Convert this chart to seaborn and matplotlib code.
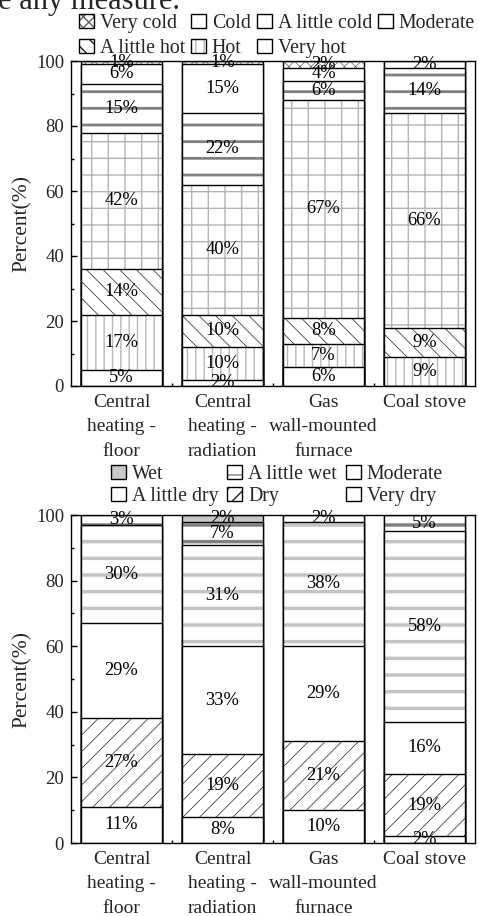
import matplotlib
matplotlib.use("Agg")
import numpy as np
import matplotlib.pyplot as plt
import seaborn as sns
from matplotlib.patches import Patch

sources = ["Central\nheating -\nfloor", "Central\nheating -\nradiation",
           "Gas\nwall-mounted\nfurnace", "Coal stove"]

# thermal sensation, bottom -> top of each stack
thermal_levels = ["Very hot", "Hot", "A little hot", "Moderate", "A little cold", "Cold", "Very cold"]
very_hot = [5, 2, 6, 0]
hot = [17, 10, 7, 9]
little_hot = [14, 10, 8, 9]
moderate_t = [42, 40, 67, 66]
little_cold = [15, 22, 6, 14]
cold = [6, 15, 4, 2]
very_cold = [1, 1, 2, 0]

# humidity sensation, bottom -> top of each stack
humid_levels = ["Very dry", "Dry", "A little dry", "Moderate", "A little wet", "Wet"]
very_dry = [11, 8, 10, 2]
dry = [27, 19, 21, 19]
little_dry = [29, 33, 29, 16]
moderate_h = [30, 31, 38, 58]
little_wet = [3, 7, 2, 5]
wet = [0, 2, 0, 0]

# (hatch, hatch colour, hatch width, face, show pattern in legend)
thermal_style = {
    "Very hot": ("", "black", 0.5, "white", True),
    "Hot": ("||", "#b8b8b8", 1.0, "white", True),
    "A little hot": ("\\\\", "#202020", 0.5, "white", True),
    "Moderate": ("+", "#b4b4b4", 1.0, "white", False),
    "A little cold": ("-", "#808080", 2.0, "white", False),
    "Cold": ("", "black", 0.5, "white", True),
    "Very cold": ("xxx", "#606060", 0.5, "white", True),
}
humid_style = {
    "Very dry": ("", "black", 0.5, "white", True),
    "Dry": ("//", "#202020", 0.5, "white", True),
    "A little dry": ("", "black", 0.5, "white", True),
    "Moderate": ("-", "#c4c4c4", 2.5, "white", False),
    "A little wet": ("-", "#808080", 2.5, "white", True),
    "Wet": ("", "#c4c4c4", 0.5, "#c8c8c8", True),
}

sns.set_theme(style="ticks")
plt.rcParams["font.family"] = ["Liberation Serif", "DejaVu Serif"]

fig = plt.figure(figsize=(4.79, 9.16), dpi=100)
ax1 = fig.add_axes([71 / 479, 1 - 386 / 916, 404 / 479, 325 / 916])
ax2 = fig.add_axes([71 / 479, 1 - 843 / 916, 404 / 479, 328 / 916])


def stacked(ax, columns, names, styles):
    cum = np.cumsum(np.array(columns, dtype=float), axis=0)
    # draw running totals from the top level down so each level covers the one above
    for i in range(len(names) - 1, -1, -1):
        hatch, hcol, hlw, face, _ = styles[names[i]]
        with plt.rc_context({"hatch.linewidth": hlw}):
            sns.barplot(x=sources, y=cum[i], color=face, saturation=1, edgecolor=hcol,
                        linewidth=0, hatch=hatch, width=0.8, errorbar=None, ax=ax)
        sns.barplot(x=sources, y=cum[i], color="black", fill=False, linewidth=1.0,
                    width=0.8, errorbar=None, ax=ax)
    for i, col in enumerate(columns):
        for j, v in enumerate(col):
            if v > 0:
                ax.text(j, cum[i][j] - v / 2, f"{v}%", ha="center", va="center",
                        fontsize=13.3, color="black")

    ax.set_xlim(-0.5, 3.5)
    ax.set_ylim(0, 100)
    ax.set_yticks(range(0, 101, 20))
    ax.set_yticks(range(10, 100, 20), minor=True)
    ax.set_xticks([0.5, 1.5, 2.5], minor=True)
    ax.tick_params(which="both", direction="in", top=False, right=False, color="black")
    ax.tick_params(which="major", length=4, width=1)
    ax.tick_params(which="minor", length=2.5, width=1)
    ax.tick_params(axis="y", labelsize=13.5, pad=5)
    ax.tick_params(axis="x", labelsize=14, pad=6)
    for lbl in ax.get_xticklabels():
        lbl.set_linespacing(1.55)
    for s in ax.spines.values():
        s.set_visible(True)
        s.set_color("black")
        s.set_linewidth(1.0)
    ax.set_xlabel("")
    ax.set_ylabel("Percent(%)", fontsize=15.5, labelpad=3)


def legend_handles(names, styles):
    out = []
    for n in names:
        hatch, hcol, hlw, face, show = styles[n]
        if not show:
            hatch = ""
        out.append((Patch(facecolor=face, edgecolor=hcol, hatch=hatch, linewidth=0),
                    Patch(facecolor="none", edgecolor="black", linewidth=1.0)))
    return out


stacked(ax1, [very_hot, hot, little_hot, moderate_t, little_cold, cold, very_cold],
        thermal_levels, thermal_style)
stacked(ax2, [very_dry, dry, little_dry, moderate_h, little_wet, wet],
        humid_levels, humid_style)

top_order = ["Very cold", "A little hot", "Cold", "Hot", "A little cold", "Very hot", "Moderate"]
fig.legend(legend_handles(top_order, thermal_style), top_order, ncol=4, frameon=False,
           loc="upper left", bbox_to_anchor=(79 / 479, 1 - 14 / 916), fontsize=14.3,
           handlelength=0.75, handleheight=0.7, handletextpad=0.3, columnspacing=0.3,
           labelspacing=0.3, borderpad=0, borderaxespad=0)

bot_order = ["Wet", "A little dry", "A little wet", "Dry", "Moderate", "Very dry"]
fig.legend(legend_handles(bot_order, humid_style), bot_order, ncol=3, frameon=False,
           loc="upper left", bbox_to_anchor=(111 / 479, 1 - 465 / 916), fontsize=14.3,
           handlelength=0.75, handleheight=0.7, handletextpad=0.3, columnspacing=0.45,
           labelspacing=0.15, borderpad=0, borderaxespad=0)

fig.text(-0.004, 1 - 9 / 916, "e any measure.", fontsize=22, va="baseline", ha="left")

fig.savefig("out.png", dpi=100)
